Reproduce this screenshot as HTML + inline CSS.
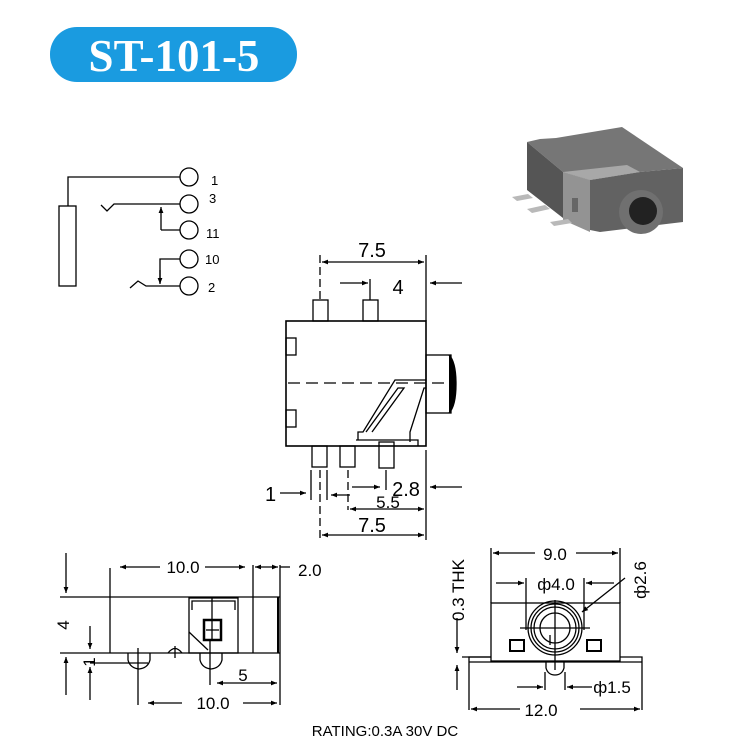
<!DOCTYPE html>
<html><head><meta charset="utf-8"><style>
html,body{margin:0;padding:0;background:#fff;}
svg{display:block;font-family:"Liberation Sans",Arial,sans-serif;}
</style></head><body>
<svg width="735" height="744" viewBox="0 0 735 744" xmlns="http://www.w3.org/2000/svg">
<defs>
<marker id="a" viewBox="0 0 10 10" refX="10" refY="5" markerWidth="9" markerHeight="6" orient="auto-start-reverse" markerUnits="userSpaceOnUse"><path d="M0,1 L10,5 L0,9 Z" fill="#000"/></marker>
</defs>
<!-- title -->
<rect x="50" y="27" width="247" height="55" rx="27" fill="#1a9be0"/>
<text x="174" y="71" text-anchor="middle" font-family="Liberation Serif,serif" font-weight="bold" font-size="45" fill="#fff">ST-101-5</text>

<g stroke="#000" stroke-width="1.3" fill="none">
<!-- schematic -->
<rect x="59" y="206" width="17" height="80"/>
<polyline points="68,206 68,177 180,177"/>
<circle cx="189" cy="177" r="9"/>
<polyline points="101,205 107,211 114,204 180,204"/>
<circle cx="189" cy="204" r="9"/>
<line x1="161" y1="230" x2="161" y2="207" marker-end="url(#a)"/>
<line x1="161" y1="230" x2="180" y2="230"/>
<circle cx="189" cy="230" r="9"/>
<polyline points="180,259 160,259 160,283"/>
<line x1="160" y1="270" x2="160" y2="284" marker-end="url(#a)"/>
<circle cx="189" cy="259" r="9"/>
<polyline points="130,288 138,281 146,286 180,286"/>
<circle cx="189" cy="286" r="9"/>

<!-- top view -->
<rect x="286" y="321" width="140" height="125" stroke-width="1.6"/>
<rect x="313" y="300" width="15" height="21"/>
<rect x="363" y="300" width="15" height="21"/>
<rect x="286" y="338" width="10" height="17"/>
<rect x="286" y="410" width="10" height="17"/>
<rect x="426" y="355" width="25" height="58"/>
<path d="M449,355 Q456,362 456,384 Q456,406 449,413" fill="#000"/>
<line x1="288" y1="383" x2="456" y2="383" stroke-dasharray="12,6"/>
<polyline points="358,440 358,432 363,432 395,380 426,380"/>
<polyline points="366,432 398,388 404,388 372,432"/>
<polyline points="410,442 410,432 424,388 426,388"/>
<polyline points="356,440 418,440 418,446"/>
<rect x="312" y="446" width="15" height="21"/>
<rect x="340" y="446" width="15" height="21"/>
<rect x="379" y="442" width="15" height="26"/>
<line x1="320" y1="255" x2="320" y2="300" stroke-dasharray="8,4"/>
<line x1="426" y1="255" x2="426" y2="321"/>
<line x1="322" y1="262" x2="424" y2="262" marker-start="url(#a)" marker-end="url(#a)"/>
<line x1="340" y1="283" x2="368" y2="283" marker-end="url(#a)"/>
<line x1="370" y1="279" x2="370" y2="300"/>
<line x1="462" y1="283" x2="430" y2="283" marker-end="url(#a)"/>
<line x1="352" y1="487" x2="380" y2="487" marker-end="url(#a)"/>
<line x1="386" y1="470" x2="386" y2="490"/>
<line x1="462" y1="487" x2="430" y2="487" marker-end="url(#a)"/>
<line x1="280" y1="493" x2="306" y2="493" marker-end="url(#a)"/>
<line x1="311" y1="470" x2="311" y2="500"/>
<line x1="327" y1="470" x2="327" y2="500"/>
<line x1="350" y1="495" x2="331" y2="495" marker-end="url(#a)"/>
<line x1="320" y1="470" x2="320" y2="540" stroke-dasharray="8,4"/>
<line x1="348" y1="470" x2="348" y2="510" stroke-dasharray="8,4"/>
<line x1="426" y1="450" x2="426" y2="540"/>
<line x1="350" y1="509" x2="424" y2="509" marker-start="url(#a)" marker-end="url(#a)"/>
<line x1="322" y1="535" x2="424" y2="535" marker-start="url(#a)" marker-end="url(#a)"/>

<!-- side view -->
<line x1="60" y1="597" x2="280" y2="597"/>
<line x1="60" y1="653" x2="280" y2="653"/>
<line x1="110" y1="568" x2="110" y2="653"/>
<line x1="253" y1="565" x2="253" y2="653"/>
<line x1="280" y1="565" x2="280" y2="705"/>
<line x1="278" y1="597" x2="278" y2="653" stroke-width="2"/>
<rect x="189" y="598" width="49" height="55"/>
<polyline points="192,610 192,601 235,601 235,610"/>
<rect x="204" y="620" width="17" height="20" stroke-width="2.5"/>
<line x1="212" y1="598" x2="212" y2="640"/>
<line x1="206" y1="630" x2="219" y2="630"/>
<polyline points="189,632 208,650"/>
<path d="M128,653 L128,660 Q130,668 139,669 Q148,668 150,660 L150,653"/>
<line x1="138" y1="648" x2="138" y2="705"/>
<path d="M200,653 L200,660 Q202,668 211,669 Q220,668 222,660 L222,653"/>
<line x1="210" y1="640" x2="210" y2="685"/>
<path d="M168,653 Q175,644 182,653"/>
<line x1="175" y1="646" x2="175" y2="658"/>
<line x1="90" y1="663" x2="148" y2="663"/>
<line x1="160" y1="567" x2="120" y2="567" marker-end="url(#a)"/>
<line x1="205" y1="567" x2="245" y2="567" marker-end="url(#a)"/>
<line x1="255" y1="567" x2="278" y2="567" marker-start="url(#a)" marker-end="url(#a)"/>
<line x1="280" y1="567" x2="290" y2="567"/>
<line x1="66" y1="553" x2="66" y2="593" marker-end="url(#a)"/>
<line x1="66" y1="695" x2="66" y2="657" marker-end="url(#a)"/>
<line x1="90" y1="626" x2="90" y2="649" marker-end="url(#a)"/>
<line x1="90" y1="700" x2="90" y2="667" marker-end="url(#a)"/>
<line x1="217" y1="683" x2="277" y2="683" marker-start="url(#a)" marker-end="url(#a)"/>
<line x1="182" y1="703" x2="148" y2="703" marker-end="url(#a)"/>
<line x1="243" y1="703" x2="277" y2="703" marker-end="url(#a)"/>

<!-- front view -->
<rect x="491" y="603" width="129" height="58"/>
<line x1="491" y1="548" x2="491" y2="603"/>
<line x1="620" y1="548" x2="620" y2="603"/>
<polyline points="469,710 469,657 491,657"/>
<polyline points="642,710 642,657 620,657"/>
<line x1="469" y1="662" x2="642" y2="662"/>
<line x1="462" y1="657" x2="491" y2="657"/>
<circle cx="555" cy="628" r="27"/>
<circle cx="555" cy="628" r="24"/>
<circle cx="555" cy="628" r="21"/>
<circle cx="555" cy="628" r="15"/>
<line x1="520" y1="628" x2="590" y2="628"/>
<line x1="555" y1="600" x2="555" y2="670"/>
<line x1="550" y1="635" x2="550" y2="645"/>
<rect x="510" y="640" width="14" height="11" stroke-width="2"/>
<rect x="587" y="640" width="14" height="11" stroke-width="2"/>
<path d="M546,662 L546,668 Q548,675 555,675 Q562,675 564,668 L564,662"/>
<line x1="526" y1="578" x2="526" y2="630"/>
<line x1="584" y1="578" x2="584" y2="630"/>
<line x1="545" y1="672" x2="545" y2="690"/>
<line x1="565" y1="672" x2="565" y2="690"/>
<line x1="535" y1="553" x2="493" y2="553" marker-end="url(#a)"/>
<line x1="576" y1="553" x2="618" y2="553" marker-end="url(#a)"/>
<line x1="496" y1="583" x2="524" y2="583" marker-end="url(#a)"/>
<line x1="614" y1="583" x2="586" y2="583" marker-end="url(#a)"/>
<line x1="625" y1="578" x2="582" y2="612" marker-end="url(#a)"/>
<line x1="517" y1="687" x2="543" y2="687" marker-end="url(#a)"/>
<line x1="592" y1="687" x2="567" y2="687" marker-end="url(#a)"/>
<line x1="457" y1="618" x2="457" y2="653" marker-end="url(#a)"/>
<line x1="457" y1="690" x2="457" y2="665" marker-end="url(#a)"/>
<line x1="520" y1="709" x2="471" y2="709" marker-end="url(#a)"/>
<line x1="580" y1="709" x2="640" y2="709" marker-end="url(#a)"/>
</g>

<!-- 3D image -->
<g>
<polygon points="527,142 540,139 556,138 622,127 683,168 640,172 590,180 563,172" fill="#767676"/>
<polygon points="527,142 563,172 563,218 527,190" fill="#555"/>
<polygon points="590,180 640,172 683,168 683,222 600,232 590,230" fill="#626262"/>
<polygon points="563,172 627,165 640,172 590,180" fill="#a8a8a8"/>
<polygon points="563,172 590,180 590,232 563,220" fill="#939393"/>
<rect x="572" y="198" width="6" height="14" fill="#666"/>
<circle cx="641" cy="212" r="22" fill="#707070"/>
<circle cx="643" cy="211" r="14" fill="#222"/>
<polygon points="512,197 528,194 533,198 517,201" fill="#b9b9b9"/>
<polygon points="527,209 545,205 550,209 532,213" fill="#b9b9b9"/>
<polygon points="550,222 568,219 572,223 554,226" fill="#b9b9b9"/>
</g>

<g font-size="13" fill="#000">
<text x="211" y="185">1</text><text x="209" y="203">3</text><text x="206" y="238">11</text><text x="205" y="264">10</text><text x="208" y="292">2</text>
</g>
<g font-size="20" fill="#000">
<text x="372" y="257" text-anchor="middle">7.5</text>
<text x="398" y="294" text-anchor="middle">4</text>
<text x="406" y="496" text-anchor="middle">2.8</text>
<text x="265" y="501">1</text>
<text x="372" y="532" text-anchor="middle">7.5</text>
</g>
<text x="388" y="508" text-anchor="middle" font-size="17">5.5</text>
<g font-size="17" fill="#000">
<text x="183" y="573" text-anchor="middle">10.0</text>
<text x="298" y="576">2.0</text>
<text x="243" y="681" text-anchor="middle">5</text>
<text x="213" y="709" text-anchor="middle">10.0</text>
<text x="555" y="560" text-anchor="middle">9.0</text>
<text x="556" y="590" text-anchor="middle">ф4.0</text>
<text x="612" y="693" text-anchor="middle">ф1.5</text>
<text x="541" y="716" text-anchor="middle">12.0</text>
<text transform="translate(69,625) rotate(-90)" text-anchor="middle">4</text>
<text transform="translate(95,662) rotate(-90)" text-anchor="middle">1</text>
<text transform="translate(464,590) rotate(-90)" text-anchor="middle">0.3 THK</text>
<text transform="translate(646,580) rotate(-90)" text-anchor="middle">ф2.6</text>
</g>
<text x="385" y="736" text-anchor="middle" font-size="15">RATING:0.3A 30V DC</text>
</svg>
</body></html>
